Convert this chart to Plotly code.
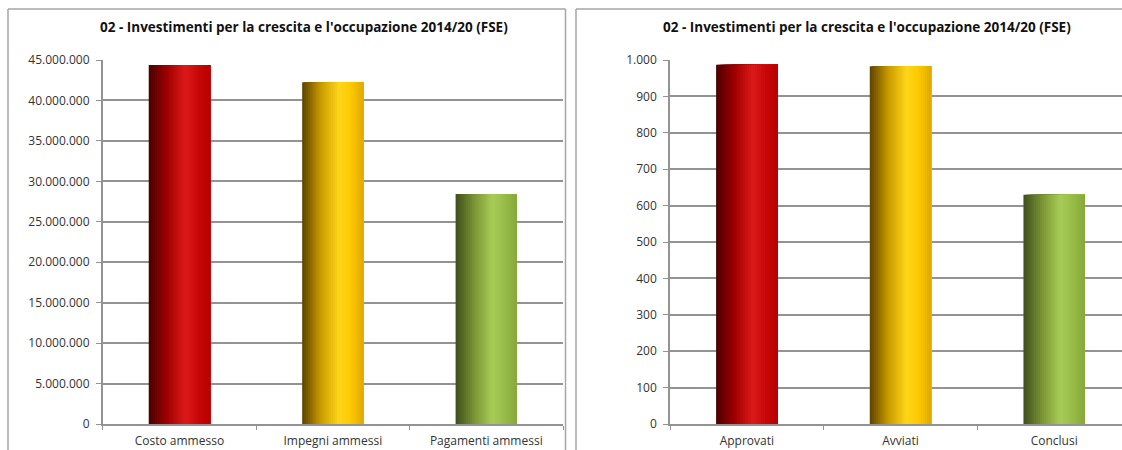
import plotly.graph_objects as go

# ---- data ----
left_categories = ["Costo ammesso", "Impegni ammessi", "Pagamenti ammessi"]
left_values = [44380000, 42240000, 28430000]
right_categories = ["Approvati", "Avviati", "Conclusi"]
right_values = [987, 983, 630]
title_text = "02 - Investimenti per la crescita e l'occupazione 2014/20 (FSE)"

# ---- styling ----
W, H = 1122, 450
FONT = "Open Sans"
GRID = "#939393"
TXT = "#333333"

grad = [
    [(0, (74, 0, 0)), (0.3, (160, 0, 0)), (0.6, (220, 26, 26)), (0.8, (200, 8, 8)), (1, (184, 0, 0))],
    [(0, (92, 67, 0)), (0.3, (200, 154, 0)), (0.6, (255, 214, 24)), (0.8, (252, 200, 0)), (1, (224, 168, 0))],
    [(0, (62, 78, 28)), (0.3, (122, 148, 52)), (0.6, (168, 204, 88)), (0.8, (152, 188, 72)), (1, (134, 168, 60))],
]


def interp(stops, t):
    for (p0, c0), (p1, c1) in zip(stops, stops[1:]):
        if p0 <= t <= p1:
            f = (t - p0) / (p1 - p0)
            return "rgb(%d,%d,%d)" % tuple(round(a + (b - a) * f) for a, b in zip(c0, c1))
    return "rgb(%d,%d,%d)" % stops[-1][1]


NSTRIP = 30
BARW = 0.4

fig = go.Figure()
for xa, ya, cats, vals in (("x", "y", left_categories, left_values),
                           ("x2", "y2", right_categories, right_values)):
    w = BARW / NSTRIP
    for i in range(NSTRIP):
        t = (i + 0.5) / NSTRIP
        fig.add_trace(go.Bar(
            x=cats, y=vals, xaxis=xa, yaxis=ya,
            width=[BARW - i * w] * len(cats),
            offset=[-BARW / 2 + i * w] * len(cats),
            marker=dict(color=[interp(g, t) for g in grad], line=dict(width=0)),
            showlegend=False, hoverinfo="skip",
        ))

ydom = [(H - 424) / H, (H - 60) / H]
axis_common = dict(showline=True, linecolor=GRID, linewidth=1.5, automargin=False,
                   tickfont=dict(family=FONT, size=12, color=TXT))
fig.update_layout(
    width=W, height=H, margin=dict(l=0, r=0, t=0, b=0, autoexpand=False),
    paper_bgcolor="white", plot_bgcolor="white",
    barmode="overlay", separators=",.",
    xaxis=dict(domain=[102.7 / W, 563 / W], range=[-0.5, 2.5], ticks="outside",
               tickson="boundaries", ticklen=4, tickcolor=GRID, showgrid=False,
               ticklabelstandoff=5, anchor="y", **axis_common),
    yaxis=dict(domain=ydom, range=[0, 45000000], dtick=5000000, tickformat=",d",
               ticks="outside", ticklen=5, tickcolor=GRID, showgrid=True,
               gridcolor=GRID, gridwidth=1.5, zeroline=False, anchor="x",
               ticklabelstandoff=4, **axis_common),
    xaxis2=dict(domain=[670 / W, 1.0], range=[-0.5, 2.5 - 9 / 153.5], ticks="outside",
                tickson="boundaries", ticklen=4, tickcolor=GRID, showgrid=False,
                ticklabelstandoff=5, anchor="y2", **axis_common),
    yaxis2=dict(domain=ydom, range=[0, 1000], dtick=100, tickformat=",d",
                ticks="outside", ticklen=5, tickcolor=GRID, showgrid=True,
                gridcolor=GRID, gridwidth=1.5, zeroline=False, anchor="x2",
                ticklabelstandoff=4, **axis_common),
)

# titles
for cx in (304, 867):
    fig.add_annotation(text="<b>" + title_text + "</b>", xref="paper", yref="paper",
                       x=cx / W, y=(H - 27) / H, showarrow=False, xanchor="center",
                       yanchor="middle", font=dict(family=FONT, size=13.5, color="#111111"))

# panel borders
BORDER = "#a6a6a6"
for x0, x1 in ((8, 565.5), (576, 1140)):
    fig.add_shape(type="line", xref="paper", yref="paper", x0=x0 / W, x1=x1 / W,
                  y0=(H - 9) / H, y1=(H - 9) / H, line=dict(color=BORDER, width=1.5))
    fig.add_shape(type="line", xref="paper", yref="paper", x0=x0 / W, x1=x0 / W,
                  y0=(H - 9) / H, y1=-0.05, line=dict(color=BORDER, width=1.5))
    fig.add_shape(type="line", xref="paper", yref="paper", x0=x1 / W, x1=x1 / W,
                  y0=(H - 9) / H, y1=-0.05, line=dict(color=BORDER, width=1.5))

fig.write_html("out.html", config={"displayModeBar": False},
               post_script="document.body.style.margin='0';document.body.style.overflow='hidden';")
